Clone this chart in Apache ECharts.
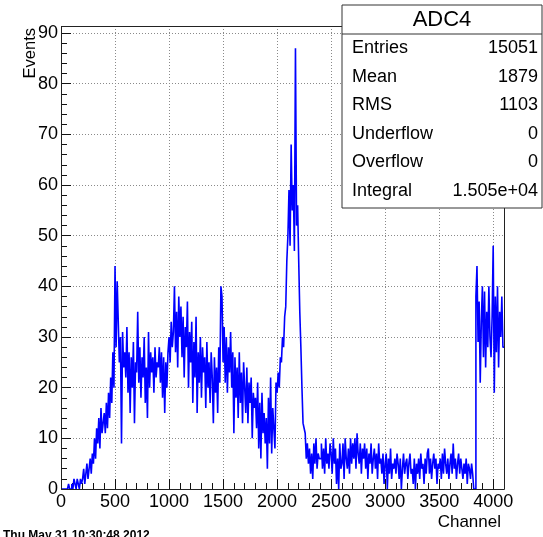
<!DOCTYPE html>
<html><head><meta charset="utf-8">
<script src="https://cdn.jsdelivr.net/npm/echarts@6/dist/echarts.min.js"></script>
<style>html,body{margin:0;padding:0;background:#fff}#c{width:543px;height:537px}</style>
</head><body><div id="c"></div>
<script>
// ---- data: histogram "ADC4", bins of 10 channels starting at channel 0 ----
const binWidth = 10;
const countsRise = [ // 0-500
0,0,0,0,0,0,0,1,0,0,
1,0,2,1,0,2,1,0,2,1,
2,4,1,3,5,2,4,6,3,7,
5,10,6,12,9,14,8,16,11,13,
15,11,17,12,19,14,22,17,27,20];
const countsPlateau = [ // 500-2000
44,28,41,33,25,30,9,31,24,27,
22,32,19,27,15,26,20,29,13,25,
23,35,21,28,18,26,22,30,17,24,
14,31,20,27,23,26,19,28,22,25,
24,28,21,27,18,26,15,25,20,27,
30,25,33,28,31,40,27,35,24,38,
30,36,26,34,22,32,28,37,20,31,
25,33,17,29,22,34,15,27,21,30,
18,28,23,26,16,29,20,25,17,27,
22,13,26,19,24,15,28,21,40,38,
25,32,21,30,19,28,23,31,20,27,
11,26,18,24,14,27,17,23,13,25,
20,15,24,13,21,17,22,10,19,16,
18,12,21,8,17,6,19,11,15,9,
14,4,18,9,22,7,16,12,8,21];
const countsPeak = [ // 2000-2300
19,23,20,26,25,30,28,34,36,45,
50,59,48,68,55,60,47,87,52,56,
45,35,28,20,13,12,11,6,9,5];
const countsTail = [ // 2300-3840
8,3,7,2,9,5,10,4,7,6,
6,9,4,8,3,10,5,7,4,9,
7,3,10,5,8,1,6,0,9,4,
5,9,2,10,6,4,8,3,10,5,
9,6,10,4,11,7,5,9,3,8,
6,9,4,8,2,7,5,9,3,6,
8,4,7,2,9,5,6,3,7,1,
5,7,0,6,3,8,2,5,4,6,
3,7,5,2,6,0,4,7,3,5,
6,2,5,7,3,4,1,6,0,5,
3,6,2,7,4,5,1,6,3,7,
8,3,6,2,5,7,4,6,1,5,
4,6,2,7,3,8,5,3,6,2,
5,7,3,9,4,6,2,5,7,3,
6,4,2,5,3,6,1,5,4,2,
5,3,0,0];
const countsEnd = [ // 3840-4100
38,44,29,37,21,33,
40,26,39,24,35,28,40,30,26,34,
48,19,38,27,40,24,35,30,38,28];

const xRange = [0, 4100];
const yRange = [0, 91.4];
const xMajor = 500, xMinor = 100;
const yMajor = 10, yMinor = 2;

const histTitle = 'ADC4';
const statLabels = ['Entries', 'Mean', 'RMS', 'Underflow', 'Overflow', 'Integral'];
const statValues = ['15051', '1879', '1103', '0', '0', '1.505e+04'];
const xTitle = 'Channel';
const yTitle = 'Events';
const dateText = 'Thu May 31 10:30:48 2012';

// ---- build ----
const counts = [].concat(countsRise, countsPlateau, countsPeak, countsTail, countsEnd);
const histData = counts.map((c, i) => [i * binWidth, c]);
histData.push([counts.length * binWidth, counts[counts.length - 1]]);

const W = 543, H = 537;
const G = {left: 61, right: 39, top: 26, bottom: 48};
const gw = W - G.left - G.right, gh = H - G.top - G.bottom;
const FONT = '"Liberation Sans", Arial, Helvetica, sans-serif';

const chart = echarts.init(document.getElementById('c'), null, {renderer: 'canvas'});

const boxX = 342, boxY = 5, boxW = 200, boxH = 203, rowH = 28.6;
const statGraphics = [];
statGraphics.push({type: 'rect', z: 200, shape: {x: boxX, y: boxY, width: boxW, height: boxH},
  style: {fill: '#fff', stroke: '#333', lineWidth: 1}});
statGraphics.push({type: 'line', z: 201, shape: {x1: boxX, y1: 34, x2: boxX + boxW, y2: 34},
  style: {stroke: '#333', lineWidth: 1}});
statGraphics.push({type: 'text', z: 202, style: {text: histTitle, x: boxX + boxW / 2, y: 20,
  font: '22px ' + FONT, fill: '#000', align: 'center', verticalAlign: 'middle', textAlign: 'center', textVerticalAlign: 'middle'}});
statLabels.forEach((lab, i) => {
  const y = 48 + i * rowH;
  statGraphics.push({type: 'text', z: 202, style: {text: lab, x: boxX + 10, y: y, font: '18px ' + FONT,
    fill: '#000', align: 'left', verticalAlign: 'middle', textAlign: 'left', textVerticalAlign: 'middle'}});
  statGraphics.push({type: 'text', z: 202, style: {text: statValues[i], x: boxX + boxW - 4, y: y, font: '18px ' + FONT,
    fill: '#000', align: 'right', verticalAlign: 'middle', textAlign: 'right', textVerticalAlign: 'middle'}});
});

const option = {
  animation: false,
  backgroundColor: '#fff',
  grid: {left: G.left, right: G.right, top: G.top, bottom: G.bottom, containLabel: false},
  xAxis: [
    {type: 'value', min: xRange[0], max: xRange[1], interval: xMajor, position: 'bottom',
      axisLine: {show: false, onZero: false},
      axisTick: {show: true, inside: true, length: 10, lineStyle: {color: '#111', width: 1}},
      axisLabel: {show: true, fontSize: 18, color: '#000', fontFamily: FONT, margin: 4, showMaxLabel: false,
        formatter: v => (v % xMajor === 0 ? String(v) : '')},
      splitLine: {show: true, lineStyle: {color: '#8a8a8a', width: 1, type: [1, 2]}}},
    {type: 'value', min: xRange[0], max: xRange[1], interval: xMinor, position: 'bottom',
      axisLine: {show: false, onZero: false},
      axisTick: {show: true, inside: true, length: 6, lineStyle: {color: '#111', width: 1}},
      axisLabel: {show: false}, splitLine: {show: false}}
  ],
  yAxis: [
    {type: 'value', min: yRange[0], max: yRange[1], interval: yMajor, position: 'left',
      axisLine: {show: false, onZero: false},
      axisTick: {show: true, inside: true, length: 10, lineStyle: {color: '#111', width: 1}},
      axisLabel: {show: true, fontSize: 18, color: '#000', fontFamily: FONT, margin: 3, showMaxLabel: false,
        formatter: v => (v % yMajor === 0 ? String(v) : '')},
      splitLine: {show: true, lineStyle: {color: '#8a8a8a', width: 1, type: [1, 2]}}},
    {type: 'value', min: yRange[0], max: yRange[1], interval: yMinor, position: 'left',
      axisLine: {show: false, onZero: false},
      axisTick: {show: true, inside: true, length: 6, lineStyle: {color: '#111', width: 1}},
      axisLabel: {show: false}, splitLine: {show: false}}
  ],
  series: [{
    type: 'line', xAxisIndex: 0, yAxisIndex: 0, data: histData, step: 'end',
    symbol: 'none', showSymbol: false, silent: true, z: 5,
    lineStyle: {color: '#0000ff', width: 1.6}, itemStyle: {color: '#0000ff'}
  }],
  graphic: [
    {type: 'rect', z: 100, silent: true, shape: {x: G.left + 0.5, y: G.top + 0.5, width: gw, height: gh},
      style: {fill: 'none', stroke: '#222', lineWidth: 1}},
    {type: 'text', z: 100, style: {text: xTitle, x: G.left + gw - 3, y: 522, font: '17px ' + FONT, fill: '#000',
      align: 'right', verticalAlign: 'middle', textAlign: 'right', textVerticalAlign: 'middle'}},
    {type: 'text', z: 100, rotation: Math.PI / 2, x: 30, y: 28, style: {text: yTitle, x: 0, y: 0, font: '16.5px ' + FONT, fill: '#000',
      align: 'right', verticalAlign: 'middle', textAlign: 'right', textVerticalAlign: 'middle'}},
    {type: 'text', z: 100, style: {text: dateText, x: 3, y: 530, font: 'bold 12px ' + FONT, fill: '#000',
      align: 'left', verticalAlign: 'top', textAlign: 'left', textVerticalAlign: 'top'}}
  ].concat(statGraphics)
};
chart.setOption(option);
</script>
</body></html>
